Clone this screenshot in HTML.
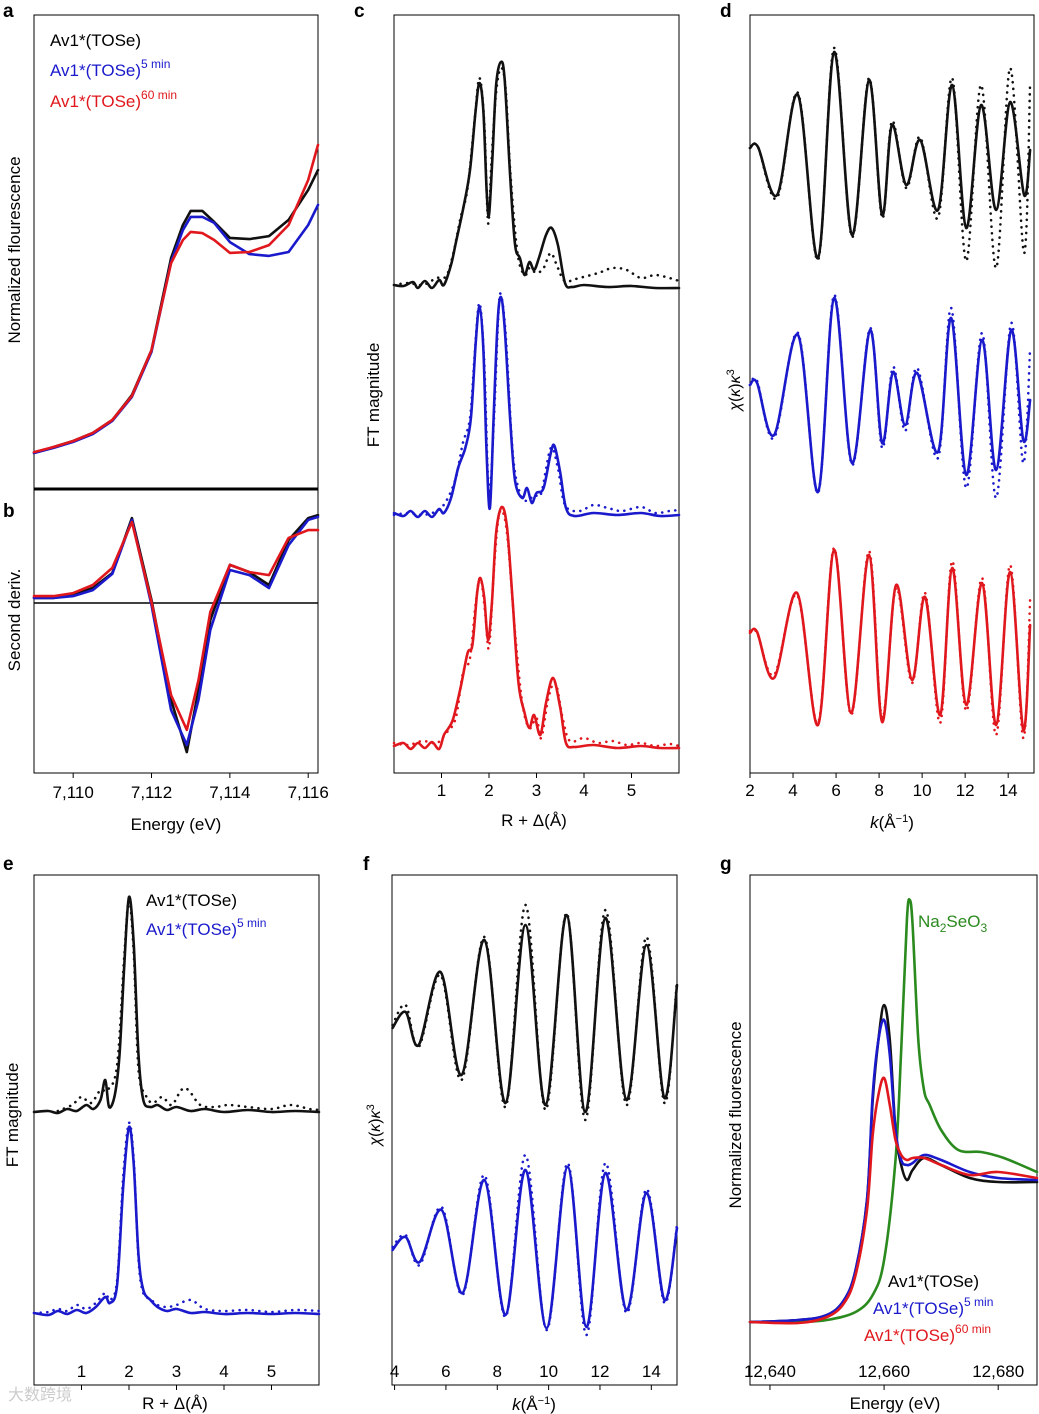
<!DOCTYPE html>
<html><head><meta charset="utf-8"><style>
html,body{margin:0;padding:0;background:#fff;}
svg{display:block;font-family:"Liberation Sans",sans-serif;}
</style></head><body>
<svg id="fig" width="1039" height="1414" viewBox="0 0 1039 1414" xmlns="http://www.w3.org/2000/svg">
<g id="static">
<text x="3" y="17" font-size="19" font-weight="bold">a</text>
<text x="3" y="517" font-size="19" font-weight="bold">b</text>
<text x="354" y="17" font-size="19" font-weight="bold">c</text>
<text x="720" y="17" font-size="19" font-weight="bold">d</text>
<text x="3" y="870" font-size="19" font-weight="bold">e</text>
<text x="363" y="870" font-size="19" font-weight="bold">f</text>
<text x="720" y="870" font-size="19" font-weight="bold">g</text>

<text transform="translate(20,250) rotate(-90)" text-anchor="middle" font-size="17">Normalized flourescence</text>
<text transform="translate(20,620) rotate(-90)" text-anchor="middle" font-size="17">Second deriv.</text>
<text transform="translate(379,395) rotate(-90)" text-anchor="middle" font-size="17">FT magnitude</text>
<text transform="translate(740,390) rotate(-90)" text-anchor="middle" font-size="16"><tspan font-style="italic">χ</tspan>(<tspan font-style="italic">κ</tspan>)<tspan font-style="italic">κ</tspan><tspan dy="-6" font-size="11">3</tspan></text>
<text transform="translate(18,1115) rotate(-90)" text-anchor="middle" font-size="17">FT magnitude</text>
<text transform="translate(380,1125) rotate(-90)" text-anchor="middle" font-size="16"><tspan font-style="italic">χ</tspan>(<tspan font-style="italic">κ</tspan>)<tspan font-style="italic">κ</tspan><tspan dy="-6" font-size="11">3</tspan></text>
<text transform="translate(741,1115) rotate(-90)" text-anchor="middle" font-size="17">Normalized fluorescence</text>

<text x="176" y="830" text-anchor="middle" font-size="17">Energy (eV)</text>
<text x="534" y="826" text-anchor="middle" font-size="17">R + Δ(Å)</text>
<text x="892" y="828" text-anchor="middle" font-size="17"><tspan font-style="italic">k</tspan>(Å<tspan dy="-6" font-size="11">−1</tspan><tspan dy="6">)</tspan></text>
<text x="175" y="1409" text-anchor="middle" font-size="17">R + Δ(Å)</text>
<text x="534" y="1410" text-anchor="middle" font-size="17"><tspan font-style="italic">k</tspan>(Å<tspan dy="-6" font-size="11">−1</tspan><tspan dy="6">)</tspan></text>
<text x="895" y="1409" text-anchor="middle" font-size="17">Energy (eV)</text>

<g font-size="17">
<text x="50" y="46" fill="#000">Av1*(TOSe)</text>
<text x="50" y="76" fill="#1a1acc">Av1*(TOSe)<tspan dy="-8" font-size="12">5  min</tspan></text>
<text x="50" y="107" fill="#e0181e">Av1*(TOSe)<tspan dy="-8" font-size="12">60  min</tspan></text>
</g>
<g font-size="17">
<text x="146" y="906" fill="#000">Av1*(TOSe)</text>
<text x="146" y="935" fill="#1a1acc">Av1*(TOSe)<tspan dy="-8" font-size="12">5  min</tspan></text>
</g>
<g font-size="17">
<text x="918" y="927" fill="#2a8a1e">Na<tspan dy="5" font-size="12">2</tspan><tspan dy="-5">SeO</tspan><tspan dy="5" font-size="12">3</tspan></text>
<text x="888" y="1287" fill="#000">Av1*(TOSe)</text>
<text x="873" y="1314" fill="#1a1acc">Av1*(TOSe)<tspan dy="-8" font-size="12">5  min</tspan></text>
<text x="864" y="1341" fill="#e0181e">Av1*(TOSe)<tspan dy="-8" font-size="12">60  min</tspan></text>
</g>
<text x="8" y="1400" font-size="16" fill="#ccc">大数跨境</text>
</g>
<g id="plots"></g>
</svg>
<script>
// ---------- data ----------
// panel a: normalized fluorescence
const aEnergy=[7109.0,7109.5,7110.0,7110.5,7111.0,7111.5,7112.0,7112.5,7112.8,7113.0,7113.3,7113.6,7114.0,7114.5,7115.0,7115.5,7116.0,7116.25];
const aBlack=[12,14,16,18.7,23,31.3,46.3,77,88,92.7,92.7,89,83.7,83.3,84.3,89.7,99.7,106.3];
const aBlue=[12,13.7,15.7,18.3,22.7,30.7,45.7,75.7,86.3,90.7,90.7,88.7,82.3,78.3,77.7,79,88,94.7];
const aRed=[12.3,14,16,18.7,23,31,46.3,75.3,83,85.7,85.3,83,78.7,79,81.3,88,103,114.7];
// panel b: second derivative
const bEnergy=[7109,7109.5,7110,7110.5,7111,7111.5,7112,7112.5,7112.9,7113.2,7113.5,7114,7114.5,7115,7115.5,7116,7116.25];
const bBlack=[1.7,1.7,2.7,5,10,28.3,1,-32.3,-49.7,-29,-5.7,12.7,10.3,6,21,28.3,29.3];
const bBlue=[1.7,1.7,2.3,4.3,9.7,27.7,-0.7,-35.7,-47.3,-32.3,-9,11,9.3,5,19.3,27.7,28.7];
const bRed=[2.3,2.3,3.3,6,11.7,27,0.3,-30.7,-42.3,-25.7,-3,12.7,10.3,9.3,21.7,24.3,24.3];
const xTicksAB=[7110,7112,7114,7116];
const xTickLabelsAB=["7,110","7,112","7,114","7,116"];
// panel c: FT magnitude
const cBlackR=[0,0.2,0.4,0.5,0.65,0.8,0.95,1.05,1.2,1.3,1.45,1.6,1.72,1.8,1.88,1.95,2.0,2.07,2.15,2.25,2.33,2.45,2.55,2.65,2.75,2.85,2.95,3.05,3.2,3.32,3.45,3.6,3.75,4.0,4.5,5.0,5.5,6.0];
const cBlackFit=[4.88,4.87,4.91,4.85,4.92,4.85,4.93,4.88,5.08,5.30,5.63,6.03,6.63,6.90,6.63,5.83,5.58,6.13,6.88,7.11,6.93,5.93,5.28,5.15,4.98,5.11,5.03,5.15,5.38,5.45,5.28,4.90,4.86,4.88,4.86,4.87,4.85,4.85];
const cBlackDataR=[0,0.3,0.6,0.9,1.1,1.25,1.4,1.55,1.7,1.8,1.9,1.98,2.05,2.15,2.25,2.35,2.45,2.6,2.75,2.85,3.0,3.15,3.3,3.45,3.6,3.9,4.3,4.6,4.9,5.2,5.5,5.8,6.0];
const cBlackData=[4.88,4.90,4.88,4.95,4.97,5.20,5.55,5.85,6.55,6.95,6.50,5.50,6.10,6.80,7.05,6.85,6.00,5.20,4.98,5.05,5.00,5.05,5.20,5.05,4.92,4.95,5.00,5.05,5.03,4.95,4.98,4.95,4.92];
const cBlueR=[0,0.2,0.35,0.5,0.65,0.8,0.95,1.05,1.2,1.35,1.5,1.62,1.72,1.8,1.88,1.95,2.02,2.1,2.18,2.25,2.33,2.45,2.55,2.7,2.8,2.9,3.0,3.15,3.3,3.38,3.5,3.62,3.8,4.2,4.7,5.2,5.6,6.0];
const cBlueFit=[2.60,2.57,2.62,2.56,2.62,2.56,2.64,2.60,2.75,3.05,3.25,3.55,4.30,4.66,4.25,3.20,2.65,3.60,4.50,4.76,4.45,3.50,2.92,2.75,2.85,2.70,2.80,2.85,3.20,3.27,3.00,2.65,2.57,2.60,2.58,2.60,2.57,2.58];
const cBlueDataR=[0,0.3,0.6,0.9,1.1,1.3,1.45,1.6,1.7,1.8,1.9,2.0,2.1,2.2,2.25,2.35,2.5,2.65,2.8,2.95,3.1,3.3,3.45,3.6,3.9,4.2,4.5,4.8,5.2,5.5,5.8,6.0];
const cBlueData=[2.58,2.60,2.58,2.62,2.72,2.95,3.30,3.55,4.20,4.70,4.10,2.80,3.50,4.60,4.78,4.40,3.20,2.80,2.72,2.78,2.80,3.25,3.05,2.68,2.62,2.68,2.65,2.62,2.66,2.60,2.62,2.63];
const cRedR=[0,0.2,0.35,0.5,0.65,0.8,0.95,1.05,1.15,1.25,1.4,1.55,1.65,1.75,1.82,1.9,1.98,2.06,2.15,2.27,2.38,2.5,2.62,2.75,2.85,2.95,3.08,3.2,3.35,3.5,3.62,3.8,4.2,4.7,5.2,5.6,6.0];
const cRedFit=[0.27,0.30,0.24,0.30,0.25,0.31,0.24,0.38,0.45,0.55,0.85,1.20,1.28,1.80,1.95,1.75,1.33,1.70,2.40,2.66,2.45,1.70,0.90,0.60,0.45,0.58,0.38,0.70,0.95,0.65,0.30,0.26,0.28,0.25,0.27,0.25,0.25];
const cRedDataR=[0,0.3,0.6,0.9,1.1,1.3,1.45,1.6,1.72,1.82,1.92,2.0,2.1,2.2,2.3,2.4,2.55,2.7,2.85,3.0,3.1,3.25,3.4,3.55,3.7,4.0,4.3,4.6,4.9,5.2,5.5,5.8,6.0];
const cRedData=[0.30,0.28,0.32,0.30,0.40,0.55,1.00,1.15,1.70,1.95,1.60,1.25,2.00,2.55,2.60,2.30,1.40,0.70,0.45,0.55,0.35,0.75,0.90,0.55,0.32,0.35,0.30,0.32,0.28,0.30,0.27,0.29,0.27];
const xTicksC=[1,2,3,4,5];
// panel d: chi(k)k^3
const dBlackK=[2.00,2.37,3.26,4.23,5.16,5.91,6.74,7.53,8.14,8.60,9.26,9.91,10.74,11.40,12.05,12.74,13.44,14.09,14.74,15.02];
const dBlackFit=[6.25,6.26,5.78,6.78,5.15,7.21,5.38,6.93,5.58,6.48,5.88,6.33,5.63,6.88,5.45,6.68,5.63,6.71,5.78,6.23];
const dBlackData=[6.25,6.26,5.75,6.80,5.13,7.25,5.36,6.95,5.55,6.52,5.85,6.36,5.55,6.95,5.12,6.88,5.05,7.05,5.20,6.90];
const dBlueK=[2.00,2.33,3.12,4.23,5.16,5.91,6.74,7.58,8.14,8.65,9.21,9.77,10.74,11.35,12.05,12.79,13.44,14.14,14.70,15.02];
const dBlueFit=[3.88,3.90,3.38,4.38,2.81,4.75,3.10,4.43,3.30,4.01,3.48,4.00,3.21,4.55,2.98,4.33,3.03,4.43,3.33,3.73];
const dBlueData=[3.88,3.92,3.35,4.40,2.80,4.78,3.08,4.45,3.25,4.06,3.42,4.05,3.15,4.65,2.85,4.40,2.75,4.50,3.10,4.25];
const dRedK=[2.00,2.33,3.12,4.19,5.16,5.91,6.70,7.53,8.14,8.79,9.53,10.14,10.84,11.40,12.05,12.79,13.44,14.09,14.70,15.02];
const dRedFit=[1.40,1.41,0.95,1.80,0.48,2.23,0.60,2.18,0.51,1.88,0.93,1.76,0.58,2.05,0.68,1.90,0.48,2.01,0.43,1.48];
const dRedData=[1.42,1.40,0.98,1.78,0.50,2.25,0.58,2.22,0.55,1.85,0.90,1.80,0.50,2.12,0.62,1.95,0.38,2.08,0.35,1.73];
const xTicksD=[2,4,6,8,10,12,14];
// panel e: FT magnitude
const eBlackR=[0,0.3,0.5,0.7,0.9,1.1,1.25,1.4,1.5,1.58,1.7,1.8,1.9,2.0,2.1,2.2,2.3,2.45,2.6,2.8,3.0,3.3,3.6,4.0,4.5,5.0,5.5,6.0];
const eBlackFit=[2.73,2.74,2.72,2.76,2.74,2.80,2.76,2.85,3.05,2.78,2.90,3.30,4.20,4.88,4.40,3.30,2.85,2.78,2.80,2.75,2.78,2.74,2.76,2.73,2.75,2.73,2.74,2.73];
const eBlackDataR=[0.5,0.8,1.0,1.2,1.4,1.55,1.75,1.9,2.0,2.1,2.2,2.35,2.5,2.7,2.9,3.1,3.25,3.5,3.8,4.1,4.5,5.0,5.4,5.8,6.0];
const eBlackData=[2.74,2.80,2.88,2.82,2.95,2.95,3.20,4.30,4.85,4.30,3.15,2.90,2.82,2.88,2.80,2.95,2.95,2.80,2.78,2.80,2.78,2.76,2.80,2.76,2.75];
const eBlueR=[0,0.3,0.5,0.7,0.9,1.1,1.3,1.5,1.6,1.75,1.88,2.0,2.1,2.2,2.3,2.45,2.6,2.8,3.0,3.3,3.6,4.0,4.5,5.0,5.5,6.0];
const eBlueFit=[0.72,0.70,0.74,0.71,0.75,0.72,0.78,0.88,0.82,1.00,2.00,2.58,2.20,1.30,0.95,0.85,0.78,0.74,0.76,0.72,0.73,0.71,0.72,0.71,0.72,0.71];
const eBlueData=[0.72,0.73,0.76,0.74,0.80,0.76,0.82,0.92,0.85,1.05,2.10,2.62,2.25,1.25,0.92,0.86,0.80,0.78,0.80,0.85,0.76,0.74,0.75,0.73,0.75,0.74];
const xTicksE=[1,2,3,4,5];
// panel f: chi(k)k^3
const fBlackK=[3.92,4.43,4.94,5.79,6.61,7.50,8.32,9.10,9.88,10.70,11.43,12.21,13.03,13.81,14.51,15.0];
const fBlackFit=[3.57,3.73,3.40,4.13,3.10,4.45,2.82,4.60,2.80,4.70,2.73,4.67,2.85,4.40,2.87,4.00];
const fBlackData=[3.60,3.80,3.38,4.10,3.05,4.48,2.78,4.80,2.75,4.72,2.65,4.75,2.80,4.48,2.82,4.05];
const fBlueK=[3.92,4.43,4.98,5.83,6.65,7.50,8.32,9.10,9.92,10.74,11.47,12.21,13.03,13.81,14.51,15.0];
const fBlueFit=[1.35,1.48,1.23,1.75,0.92,2.05,0.70,2.15,0.57,2.18,0.58,2.12,0.75,1.92,0.85,1.57];
const fBlueData=[1.38,1.50,1.20,1.78,0.90,2.10,0.68,2.30,0.55,2.22,0.50,2.22,0.72,1.96,0.82,1.60];
const xTicksF=[4,6,8,10,12,14];
// panel g: XANES
const gEnergy=[12636.5,12645,12650,12653,12655,12657,12658,12659,12660,12661,12662,12663,12664,12665,12667,12670,12675,12680,12686.8];
const gBlack=[0.63,0.65,0.70,0.85,1.15,1.85,2.85,3.45,3.80,3.45,2.55,2.20,2.05,2.15,2.27,2.20,2.07,2.03,2.03];
const gBlue=[0.63,0.65,0.70,0.85,1.15,1.85,2.90,3.45,3.65,3.30,2.55,2.25,2.20,2.22,2.30,2.25,2.13,2.07,2.05];
const gRed=[0.63,0.62,0.68,0.82,1.10,1.75,2.50,2.90,3.07,2.80,2.45,2.30,2.25,2.27,2.27,2.20,2.10,2.13,2.07];
const gGreenEnergy=[12636.5,12645,12650,12655,12658,12660,12662,12663,12664,12664.5,12665,12666,12667,12668,12670,12673,12677,12681,12686.8];
const gGreen=[0.63,0.63,0.65,0.73,0.90,1.25,2.25,3.35,4.65,4.85,4.60,3.45,2.95,2.80,2.55,2.35,2.33,2.27,2.13];
const xTicksG=[12640,12660,12680];
const xTickLabelsG=["12,640","12,660","12,680"];

// ---------- drawing ----------
const NS="http://www.w3.org/2000/svg";
const root=document.getElementById('plots');
const BLACK="#111",BLUE="#1a1acc",RED="#e0181e",GREEN="#2a8a1e";
function mk(tag,attrs,parent){const e=document.createElementNS(NS,tag);for(const k in attrs)e.setAttribute(k,attrs[k]);(parent||root).appendChild(e);return e;}
function panel(px0,px1,py0,py1,x0,x1,y0,y1){return {sx:v=>px0+(v-x0)/(x1-x0)*(px1-px0),sy:v=>py0-(v-y0)/(y1-y0)*(py0-py1),px0,px1,py0,py1};}
function pathLinear(P,xs,ys){return xs.map((x,i)=>(i?'L':'M')+P.sx(x).toFixed(1)+','+P.sy(ys[i]).toFixed(1)).join('');}
function pathSmooth(P,xs,ys){const p=xs.map((x,i)=>[P.sx(x),P.sy(ys[i])]);let d='M'+p[0][0].toFixed(1)+','+p[0][1].toFixed(1);
 for(let i=0;i<p.length-1;i++){const a=p[Math.max(0,i-1)],b=p[i],c=p[i+1],e=p[Math.min(p.length-1,i+2)];
  const c1=[b[0]+(c[0]-a[0])/6,b[1]+(c[1]-a[1])/6],c2=[c[0]-(e[0]-b[0])/6,c[1]-(e[1]-b[1])/6];
  d+='C'+c1[0].toFixed(1)+','+c1[1].toFixed(1)+' '+c2[0].toFixed(1)+','+c2[1].toFixed(1)+' '+c[0].toFixed(1)+','+c[1].toFixed(1);}
 return d;}
function series(P,xs,ys,color,name,dotted,linear){
 const el=mk('path',{d:linear?pathLinear(P,xs,ys):pathSmooth(P,xs,ys),fill:'none',stroke:color,'stroke-width':dotted?2.6:2.6,'stroke-linecap':'round','stroke-linejoin':'round'});
 if(dotted){el.setAttribute('stroke-dasharray','0.1 6.5');}
 
 
}
function frame(P,name){const r=mk('rect',{x:P.px0,y:P.py1,width:P.px1-P.px0,height:P.py0-P.py1,fill:'none',stroke:'#000','stroke-width':1});
 
 }
function ticks(P,vals,labels,ly,name){vals.forEach((v,i)=>{const x=P.sx(v);
 const t=mk('line',{x1:x,x2:x,y1:P.py0,y2:P.py0+5,stroke:'#000','stroke-width':1});
 
 
 const tx=mk('text',{x:x,y:ly,'text-anchor':'middle','font-size':17});tx.textContent=labels?labels[i]:String(v);
 
 });}

// a
const PA=panel(34,318,489,15,7109,7116.25,0,158);
frame(PA,'panel-a-frame');
series(PA,aEnergy,aBlack,BLACK,'line-a-tose',false,true);
series(PA,aEnergy,aBlue,BLUE,'line-a-tose-5min',false,true);
series(PA,aEnergy,aRed,RED,'line-a-tose-60min',false,true);
// b
const PB=panel(34,318,773,489,7109,7116.25,-56.67,38);
frame(PB,'panel-b-frame');
const zl=mk('line',{x1:34,x2:318,y1:PB.sy(0),y2:PB.sy(0),stroke:'#000','stroke-width':1.5});


const sep=mk('line',{x1:34,x2:318,y1:489,y2:489,stroke:'#000','stroke-width':3});


series(PB,bEnergy,bBlack,BLACK,'line-b-tose',false,true);
series(PB,bEnergy,bBlue,BLUE,'line-b-tose-5min',false,true);
series(PB,bEnergy,bRed,RED,'line-b-tose-60min',false,true);
ticks(PB,xTicksAB,xTickLabelsAB,798,'x-axis-ab');
// c
const PC=panel(394,679,773,15,0,6,0,7.58);
frame(PC,'panel-c-frame');
series(PC,cBlackDataR,cBlackData,BLACK,'dots-c-tose',true);
series(PC,cBlackR,cBlackFit,BLACK,'fit-c-tose',false);
series(PC,cBlueDataR,cBlueData,BLUE,'dots-c-tose-5min',true);
series(PC,cBlueR,cBlueFit,BLUE,'fit-c-tose-5min',false);
series(PC,cRedDataR,cRedData,RED,'dots-c-tose-60min',true);
series(PC,cRedR,cRedFit,RED,'fit-c-tose-60min',false);
ticks(PC,xTicksC,null,796,'x-axis-c');
// d
const PD=panel(750,1034,773,15,2,15.2,0,7.58);
frame(PD,'panel-d-frame');
series(PD,dBlackK,dBlackData,BLACK,'dots-d-tose',true);
series(PD,dBlackK,dBlackFit,BLACK,'fit-d-tose',false);
series(PD,dBlueK,dBlueData,BLUE,'dots-d-tose-5min',true);
series(PD,dBlueK,dBlueFit,BLUE,'fit-d-tose-5min',false);
series(PD,dRedK,dRedData,RED,'dots-d-tose-60min',true);
series(PD,dRedK,dRedFit,RED,'fit-d-tose-60min',false);
ticks(PD,xTicksD,null,796,'x-axis-d');
// e
const PE=panel(34,319,1385,875,0,6,0,5.1);
frame(PE,'panel-e-frame');
series(PE,eBlackDataR,eBlackData,BLACK,'dots-e-tose',true);
series(PE,eBlackR,eBlackFit,BLACK,'fit-e-tose',false);
series(PE,eBlueR,eBlueData,BLUE,'dots-e-tose-5min',true);
series(PE,eBlueR,eBlueFit,BLUE,'fit-e-tose-5min',false);
ticks(PE,xTicksE,null,1377,'x-axis-e');
// f
const PF=panel(392,677,1385,875,3.9,15,0,5.1);
frame(PF,'panel-f-frame');
series(PF,fBlackK,fBlackData,BLACK,'dots-f-tose',true);
series(PF,fBlackK,fBlackFit,BLACK,'fit-f-tose',false);
series(PF,fBlueK,fBlueData,BLUE,'dots-f-tose-5min',true);
series(PF,fBlueK,fBlueFit,BLUE,'fit-f-tose-5min',false);
ticks(PF,xTicksF,null,1377,'x-axis-f');
// g
const PG=panel(750,1037,1385,875,12636.5,12686.8,0,5.1);
frame(PG,'panel-g-frame');
series(PG,gGreenEnergy,gGreen,GREEN,'line-g-na2seo3',false);
series(PG,gEnergy,gBlack,BLACK,'line-g-tose',false);
series(PG,gEnergy,gBlue,BLUE,'line-g-tose-5min',false);
series(PG,gEnergy,gRed,RED,'line-g-tose-60min',false);
ticks(PG,xTicksG,xTickLabelsG,1377,'x-axis-g');
</script>
</body></html>
